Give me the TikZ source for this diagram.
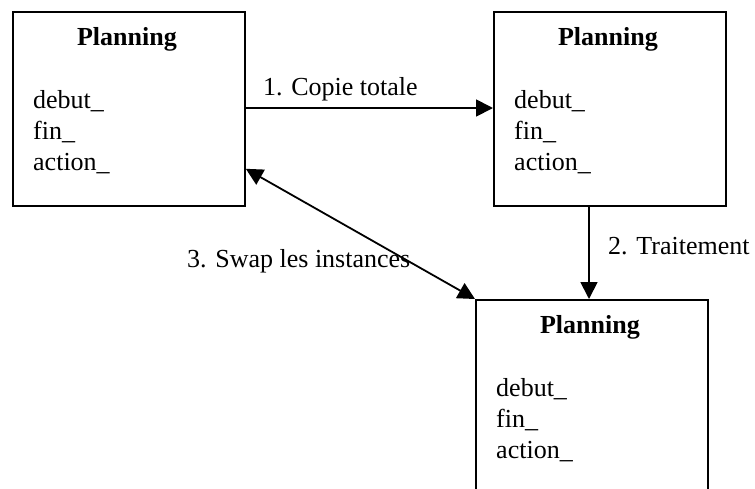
\documentclass[tikz,border=0pt]{standalone}
\usepackage{fontspec}
\setmainfont{Liberation Serif}
\usetikzlibrary{arrows.meta,calc}
\tikzset{
  box/.style={draw, line width=1.8pt, minimum width=232pt, anchor=north west, inner sep=0pt},
  title/.style={font=\fontsize{26}{31}\selectfont\bfseries, anchor=base, inner sep=0pt},
  attr/.style={font=\fontsize{26}{31}\selectfont, anchor=base west, inner sep=0pt},
  lbl/.style={font=\fontsize{26}{31}\selectfont, anchor=base west, inner sep=0pt},
  tip/.tip={Triangle[length=17pt,width=17pt]},
  arr/.style={line width=1.8pt, -tip},
  arrboth/.style={line width=1.8pt, tip-tip}
}
\begin{document}
\begin{tikzpicture}[x=1pt,y=-1pt]
\useasboundingbox (0,0) rectangle (755,488);
\clip (0,0) rectangle (755,488);
% boxes
\node[box, minimum height=194pt] (A) at (12,11) {};
\node[box, minimum height=194pt] (B) at (493,11) {};
\node[box, minimum height=230pt] (C) at (475,299) {};
% box contents
\foreach \b in {A,B,C}{
  \node[title] (\b t) at ($(\b.north)+(-2,34)$) {Planning};
  \node[attr] (\b d) at ($(\b.north west)+(21,97)$) {debut\_};
  \node[attr] (\b f) at ($(\b.north west)+(21,128)$) {fin\_};
  \node[attr] (\b a) at ($(\b.north west)+(21,159)$) {action\_};
}
% connectors
\coordinate (a1) at ($(A.north east)+(0,97)$);
\coordinate (b1) at ($(B.north west)+(0,97)$);
\draw[arr] (a1) -- (b1);
\coordinate (b2) at ($(B.south west)+(96,0)$);
\coordinate (c2) at ($(C.north west)+(114,0)$);
\draw[arr] (b2) -- (c2);
\coordinate (a3) at ($(A.south east)+(0,-38)$);
\draw[arrboth] (a3) -- (C.north west);
% labels
\node[lbl] (l1) at (263,95) {1. Copie totale};
\node[lbl] (l2) at (608,254) {2. Traitement};
\node[lbl] (l3) at (187,267) {3. Swap les instances};
\end{tikzpicture}
\end{document}
